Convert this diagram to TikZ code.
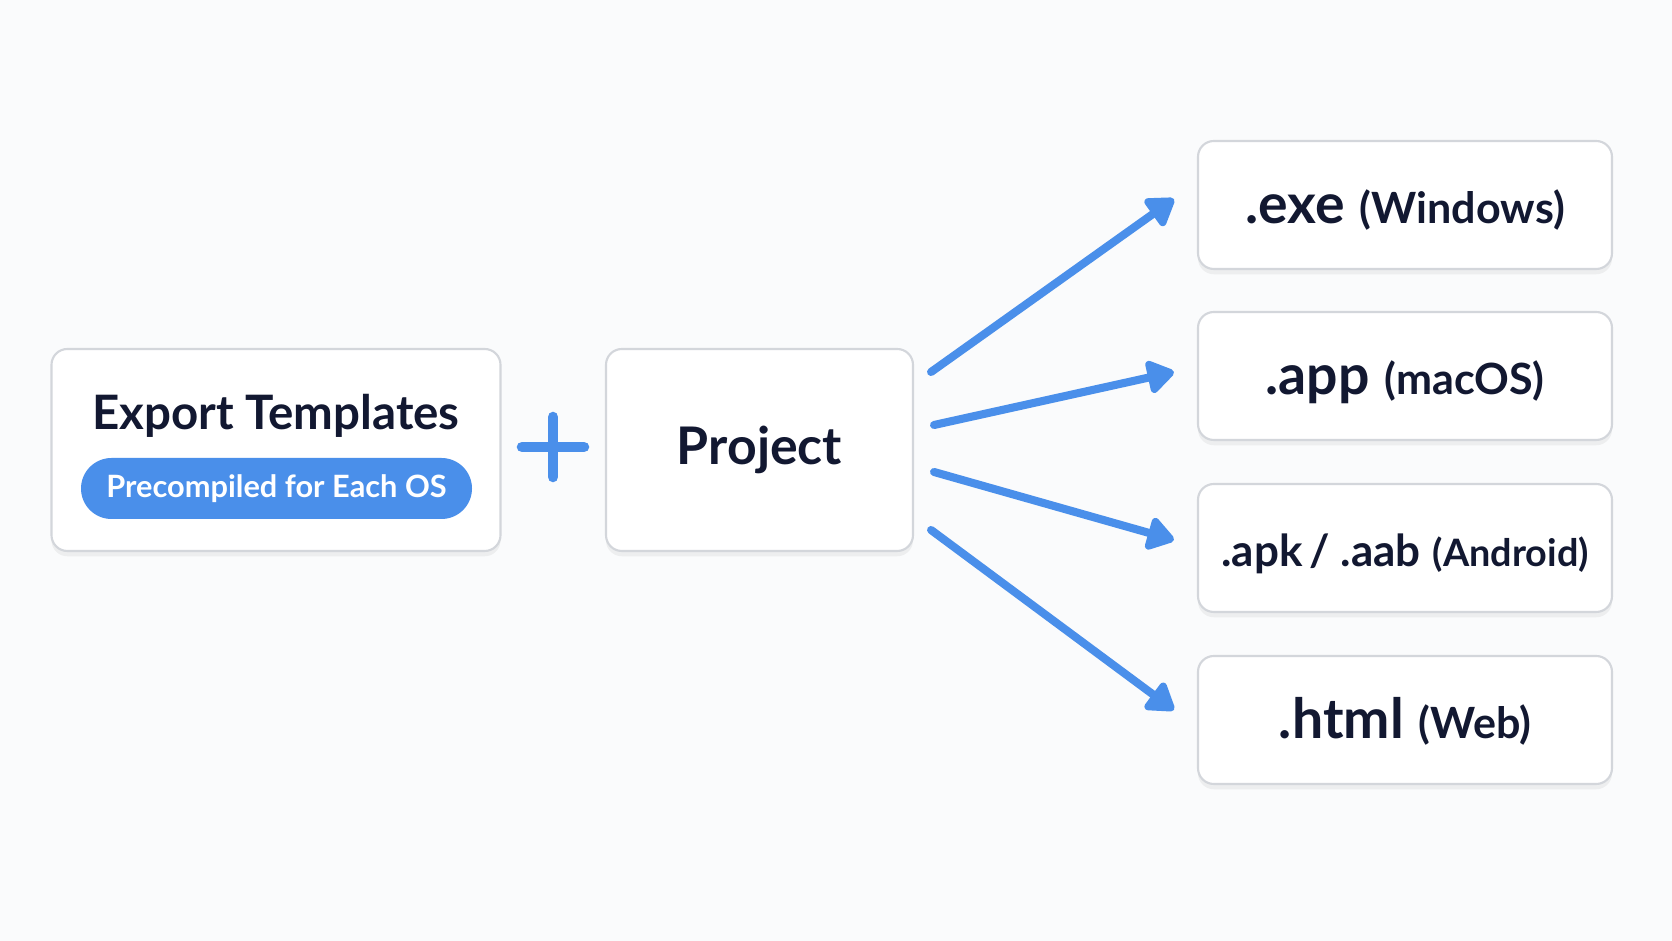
\documentclass[tikz,border=0pt]{standalone}
\usepackage{fontspec}
\setmainfont{Lato}
\usepackage{xcolor}
\usepackage{tikz}
\usetikzlibrary{
  arrows.meta, positioning, calc, shadows
}
\definecolor{inkblue}{HTML}{121831}
\definecolor{flowblue}{HTML}{4A8FEA}
\definecolor{edgegray}{HTML}{D3D6DB}
\definecolor{pagebg}{HTML}{FAFBFC}
\newcommand{\outext}[1]{{\fontsize{31.5}{36}\selectfont\bfseries #1}}
\newcommand{\outos}[1]{{\fontsize{24.5}{30}\selectfont\bfseries #1}}
\tikzset{
  cardbox/.style={
    draw=edgegray, line width=1.2pt, rounded corners=9pt, fill=white,
    drop shadow={opacity=0.10, shadow xshift=0pt, shadow yshift=-3pt},
    text=inkblue, align=center, inner sep=0pt
  },
  outbox/.style={
    cardbox, minimum width=8.28cm, minimum height=2.56cm,
    text height=1.0cm, text depth=0.26cm
  },
  titletext/.style={
    text=inkblue, font=\fontsize{27}{32}\selectfont\bfseries
  },
  pillbox/.style={
    fill=flowblue, rounded corners=0.61cm, minimum width=7.82cm,
    minimum height=1.22cm, text=white,
    font=\fontsize{17.5}{21}\selectfont\bfseries
  },
  flowarrow/.style={
    -{Triangle[length=17pt, width=21pt, round]}, line width=4.6pt,
    color=flowblue, line cap=round, line join=round
  },
  plusline/.style={
    line width=6pt, color=flowblue, line cap=round
  },
}

\begin{document}
\begin{tikzpicture}
  % page
  \fill[pagebg] (0,0) rectangle (33.44,18.82);
  \useasboundingbox (0,0) rectangle (33.44,18.82);

  % Export templates
  \node[cardbox, minimum width=8.98cm, minimum height=4.04cm]
    (tmpl) at (5.52,9.82) {};
  \node[titletext] (tmpltitle) at (5.52,10.5) {Export Templates};
  \node[pillbox] (pill) at (5.53,9.05) {Precompiled for Each OS};

  % plus
  \coordinate (plus) at (11.06,9.88);
  \draw[plusline] ([xshift=-0.62cm]plus) -- ([xshift=0.62cm]plus);
  \draw[plusline] ([yshift=-0.6cm]plus) -- ([yshift=0.6cm]plus);

  % Project
  \node[cardbox, minimum width=6.14cm, minimum height=4.04cm,
    font=\fontsize{29.5}{34}\selectfont\bfseries]
    (proj) at (15.19,9.82) {Project};

  % outputs
  \node[outbox] (exe) at (28.1,14.72)
    {\outext{.exe}\hspace{8.5pt}\outos{(Windows)}};
  \node[outbox] (app) at (28.1,11.30)
    {\outext{.app}\hspace{8.5pt}\outos{(macOS)}};
  \node[outbox] (apk) at (28.1,7.86)
    {{\fontsize{25}{30}\selectfont\bfseries .apk\hspace{4pt}/\hspace{6pt}.aab}\hspace{7pt}%
     {\fontsize{21.5}{26}\selectfont\bfseries (Android)}};
  \node[outbox] (web) at (28.1,4.42)
    {\outext{.html}\hspace{8.5pt}\outos{(Web)}};

  % arrows
  \draw[flowarrow] ([xshift=3.4mm,yshift=15.6mm]proj.east)
    -- ([xshift=-4.6mm,yshift=1.2mm]exe.west);
  \draw[flowarrow] ([xshift=4mm,yshift=5mm]proj.east)
    -- ([xshift=-4.6mm,yshift=0.8mm]app.west);
  \draw[flowarrow] ([xshift=4mm,yshift=-4.4mm]proj.east)
    -- ([xshift=-4.6mm,yshift=1.6mm]apk.west);
  \draw[flowarrow] ([xshift=3.4mm,yshift=-16mm]proj.east)
    -- ([xshift=-4.6mm,yshift=2mm]web.west);
\end{tikzpicture}
\end{document}
